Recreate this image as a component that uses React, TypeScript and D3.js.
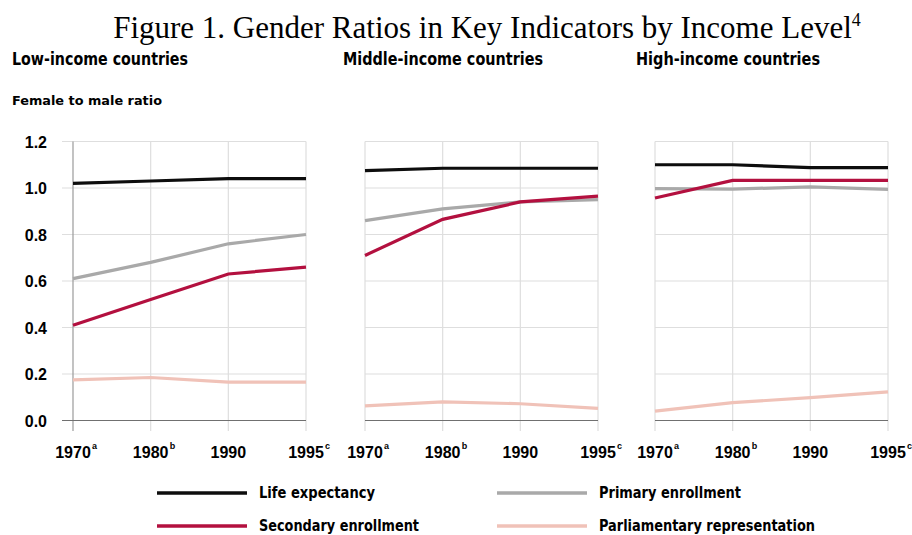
import React from 'react';
import * as d3 from 'd3';

const years = ['1970', '1980', '1990', '1995'];
const yearNotes = ['a', 'b', '', 'c'];
const yTicks = [0, 0.2, 0.4, 0.6, 0.8, 1.0, 1.2];

const panels = ['Low-income countries', 'Middle-income countries', 'High-income countries'];

const series = ['Life expectancy', 'Primary enrollment', 'Secondary enrollment', 'Parliamentary representation'];
const colors = ['#0d0d0d', '#a9a9a9', '#b3103f', '#f0c2b8'];

// values per panel, in the order of `series`
const lowIncome = [
  [1.02, 1.03, 1.04, 1.04],
  [0.61, 0.68, 0.76, 0.80],
  [0.41, 0.52, 0.63, 0.66],
  [0.175, 0.185, 0.165, 0.165],
];
const middleIncome = [
  [1.075, 1.085, 1.085, 1.085],
  [0.86, 0.91, 0.94, 0.95],
  [0.71, 0.865, 0.94, 0.965],
  [0.063, 0.08, 0.072, 0.052],
];
const highIncome = [
  [1.10, 1.10, 1.088, 1.088],
  [0.997, 0.995, 1.005, 0.994],
  [0.957, 1.033, 1.033, 1.033],
  [0.04, 0.077, 0.098, 0.123],
];
const panelData = [lowIncome, middleIncome, highIncome];

const panelRanges: [number, number][] = [[73, 306], [365, 598], [655, 888]];
const titleX = [12, 343, 636];
const titleLen = [176, 200, 184];
const legendLen = [116, 142, 160, 216];

const narrow = "'Liberation Sans Narrow', 'DejaVu Sans Condensed', 'Liberation Sans', sans-serif";
const bold = "'Liberation Sans', Arial, sans-serif";

export default function App() {
  const y = d3.scaleLinear().domain([0, 1.2]).range([420.5, 141.5]);

  return (
    <svg width={912} height={535} style={{ position: 'absolute', left: 0, top: 0, background: '#fff' }}>
      <text x={487} y={38} textAnchor="middle" fontFamily="'Liberation Serif', 'Times New Roman', serif" fontSize={31} fill="#000">
        Figure 1. Gender Ratios in Key Indicators by Income Level
        <tspan fontSize={18} dy={-12}>4</tspan>
      </text>

      {panels.map((p, i) => (
        <text key={p} x={titleX[i]} y={65} fontFamily={narrow} fontWeight="bold" fontSize={17}
          textLength={titleLen[i]} lengthAdjust="spacingAndGlyphs">{p}</text>
      ))}
      <text x={12} y={105} fontFamily={narrow} fontWeight="bold" fontSize={13}
        textLength={150} lengthAdjust="spacingAndGlyphs">Female to male ratio</text>

      {yTicks.map(t => (
        <text key={t} x={47} y={y(t) + 6} textAnchor="end" fontFamily={bold} fontWeight="bold" fontSize={16}>
          {t.toFixed(1)}
        </text>
      ))}

      {panelData.map((data, pi) => {
        const x = d3.scalePoint<string>().domain(years).range(panelRanges[pi]);
        const [x0, x1] = panelRanges[pi];
        const line = d3.line<number>().x((_, i) => x(years[i])!).y(d => y(d));
        return (
          <g key={pi}>
            {yTicks.slice(1).map(t => (
              <line key={t} x1={pi === 0 ? 62 : x0} x2={x1} y1={y(t)} y2={y(t)} stroke="#dedede" strokeWidth={1.2} />
            ))}
            {years.map((yr, i) => (
              <line key={yr} x1={x(yr)} x2={x(yr)} y1={y(1.2)} y2={431}
                stroke={pi === 0 && i === 0 ? '#9a9a9a' : '#dedede'} strokeWidth={1.2} />
            ))}
            <line x1={pi === 0 ? 62 : x0} x2={x1} y1={y(0)} y2={y(0)} stroke="#707070" strokeWidth={1.2} />
            {[3, 1, 2, 0].map(si => (
              <path key={si} d={line(data[si]) || ''} fill="none" stroke={colors[si]} strokeWidth={3.2} />
            ))}
            {years.map((yr, i) => (
              <g key={yr}>
                <text x={x(yr)} y={458} textAnchor="middle" fontFamily={bold} fontWeight="bold" fontSize={16}>{yr}</text>
                {yearNotes[i] && (
                  <text x={x(yr)! + 19} y={449} fontFamily={bold} fontWeight="bold" fontSize={9}>{yearNotes[i]}</text>
                )}
              </g>
            ))}
          </g>
        );
      })}

      {series.map((s, i) => {
        const lx = i % 2 === 0 ? 157 : 497;
        const ly = i < 2 ? 493 : 526;
        return (
          <g key={s}>
            <line x1={lx} x2={lx + 90} y1={ly} y2={ly} stroke={colors[i]} strokeWidth={3.5} />
            <text x={lx + 102} y={ly + 5} fontFamily={narrow} fontWeight="bold" fontSize={15}
              textLength={legendLen[i]} lengthAdjust="spacingAndGlyphs">{s}</text>
          </g>
        );
      })}
    </svg>
  );
}
